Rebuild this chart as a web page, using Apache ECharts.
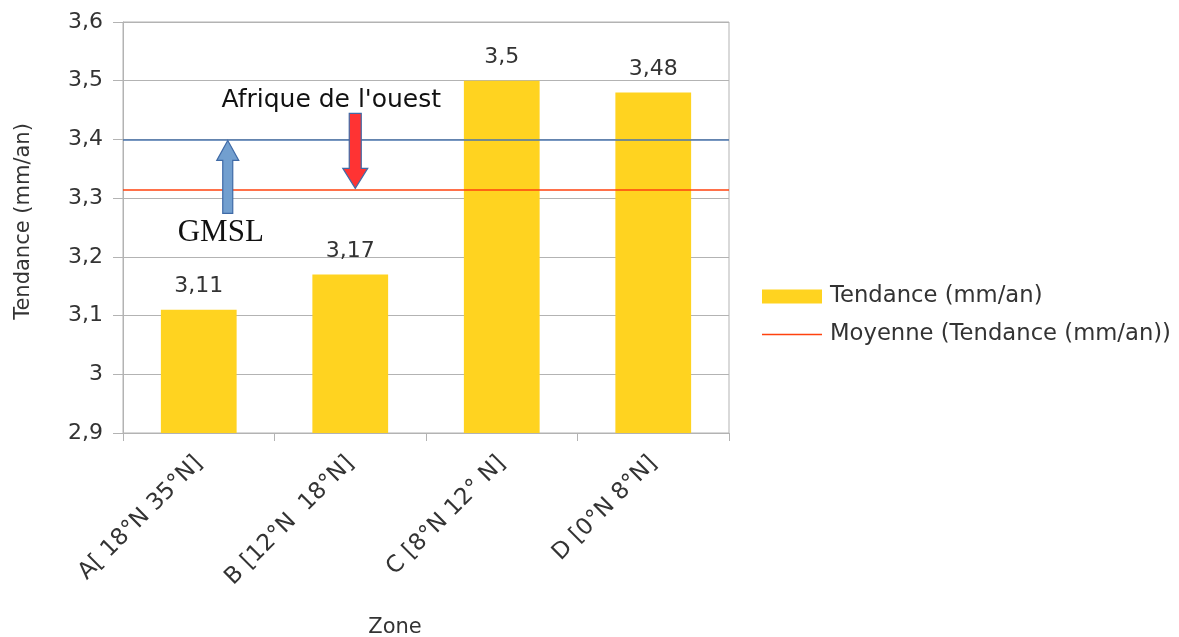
<!DOCTYPE html>
<html>
<head>
<meta charset="utf-8">
<script src="https://cdn.jsdelivr.net/npm/echarts@6/dist/echarts.min.js"></script>
<style>
  html, body { margin: 0; padding: 0; background: #ffffff; overflow: hidden; }
  #chart { width: 1179px; height: 637px; }
</style>
</head>
<body>
<div id="chart"></div>
<script>
// Sea-level trend by latitude zone (mm/an)
const zones = ['A[ 18°N 35°N]', 'B [12°N  18°N]', 'C [8°N 12° N]', 'D [0°N 8°N]'];
const tendance = [3.11, 3.17, 3.5, 3.48];
const gmsl = 3.4;
const yTicks = { min: 2.9, max: 3.6, step: 0.1 };

const barName = 'Tendance (mm/an)';
const meanName = 'Moyenne (Tendance (mm/an))';
const moyenne = tendance.reduce((a, b) => a + b, 0) / tendance.length;

const fmt = v => String(Math.round(v * 100) / 100).replace('.', ',');
const FONT = '"DejaVu Sans", "Liberation Sans", Arial, sans-serif';
const GRID_COLOR = '#b3b3b3';
const TEXT = '#333333';

const chart = echarts.init(document.getElementById('chart'), null, {
  renderer: 'canvas', width: 1179, height: 637
});

chart.setOption({
  animation: false,
  backgroundColor: '#ffffff',
  textStyle: { fontFamily: FONT },
  grid: {
    left: 123, top: 22, width: 606, height: 411,
    outerBoundsMode: 'none',
    containLabel: false,
    show: true, borderColor: GRID_COLOR, borderWidth: 1, backgroundColor: 'transparent'
  },
  legend: {
    orient: 'vertical',
    left: 762, top: 285,
    padding: 0,
    itemWidth: 60, itemHeight: 14, itemGap: 15,
    textStyle: { fontFamily: FONT, fontSize: 22.7, lineHeight: 22, color: TEXT, padding: [0, 0, 0, 3] },
    data: [
      { name: barName, icon: 'rect' },
      { name: meanName, icon: 'path://M0,0H40V1H0Z' }
    ]
  },
  xAxis: {
    type: 'category',
    data: zones,
    name: 'Zone',
    nameLocation: 'middle',
    nameGap: 184,
    nameTextStyle: { fontFamily: FONT, fontSize: 21, color: TEXT, padding: [0, 62, 0, 0] },
    axisLine: { show: true, lineStyle: { color: GRID_COLOR, width: 1 } },
    axisTick: { show: true, length: 8, lineStyle: { color: GRID_COLOR } },
    axisLabel: { rotate: 45, fontSize: 23, color: TEXT, margin: 27, fontFamily: FONT },
    splitLine: { show: false }
  },
  yAxis: {
    type: 'value',
    min: yTicks.min, max: yTicks.max, interval: yTicks.step,
    name: 'Tendance (mm/an)',
    nameLocation: 'middle',
    nameGap: 89,
    nameRotate: 90,
    nameTextStyle: { fontFamily: FONT, fontSize: 21, color: TEXT, padding: [0, 0, 0, 12] },
    axisLine: { show: true, lineStyle: { color: GRID_COLOR, width: 1 } },
    axisTick: { show: true, length: 10, lineStyle: { color: GRID_COLOR } },
    axisLabel: { fontSize: 22, color: TEXT, margin: 20, fontFamily: FONT, formatter: fmt },
    splitLine: { show: true, lineStyle: { color: GRID_COLOR, width: 1 } }
  },
  series: [
    {
      name: barName,
      type: 'bar',
      data: tendance,
      barCategoryGap: '50%',
      itemStyle: { color: '#ffd320' },
      label: {
        show: true, position: 'top', distance: 12,
        fontSize: 22, color: TEXT, fontFamily: FONT,
        formatter: p => fmt(p.value)
      },
      markLine: {
        silent: true, symbol: 'none', precision: 4, label: { show: false },
        lineStyle: { color: '#4a74ad', width: 1.5, type: 'solid' },
        data: [{ yAxis: gmsl }]
      },
      z: 2
    },
    {
      name: meanName,
      type: 'line',
      data: [],
      symbol: 'none',
      lineStyle: { color: '#ff420e', width: 1.5 },
      itemStyle: { color: '#ff420e' },
      markLine: {
        silent: true, symbol: 'none', precision: 4, label: { show: false },
        lineStyle: { color: '#ff420e', width: 1.5, type: 'solid' },
        data: [{ yAxis: moyenne }]
      },
      z: 3
    }
  ]
});

// Block arrows and annotation text anchored to the axes
function blockArrow(cx, tipY, tailY, shaftW, headW, headLen, fill, stroke) {
  const dir = tailY > tipY ? 1 : -1; // 1: points up, -1: points down
  const baseY = tipY + dir * headLen;
  return {
    type: 'polygon',
    z: 100,
    shape: {
      points: [
        [cx, tipY],
        [cx + headW / 2, baseY],
        [cx + shaftW / 2, baseY],
        [cx + shaftW / 2, tailY],
        [cx - shaftW / 2, tailY],
        [cx - shaftW / 2, baseY],
        [cx - headW / 2, baseY]
      ]
    },
    style: { fill: fill, stroke: stroke, lineWidth: 1.2 }
  };
}

const yGmsl = chart.convertToPixel({ yAxisIndex: 0 }, gmsl);
const yMean = chart.convertToPixel({ yAxisIndex: 0 }, moyenne);
const xA = chart.convertToPixel({ xAxisIndex: 0 }, zones[0]);
const xB = chart.convertToPixel({ xAxisIndex: 0 }, zones[1]);

const blueX = xA + 29;
const redX = xB + 5;

chart.setOption({
  graphic: [
    blockArrow(blueX, yGmsl + 1, yGmsl + 74, 10, 22, 20, '#729fcf', '#3f6aa6'),
    blockArrow(redX, yMean - 1, yMean - 76, 12, 25, 20, '#ff3333', '#3f6aa6'),
    {
      type: 'text', z: 100,
      x: blueX - 7, y: yGmsl + 93,
      style: {
        text: 'GMSL', fill: '#111111',
        font: '31px "Liberation Serif", "Times New Roman", serif',
        align: 'center', verticalAlign: 'middle'
      }
    },
    {
      type: 'text', z: 100,
      x: redX - 24, y: yMean - 89,
      style: {
        text: "Afrique de l'ouest", fill: '#111111',
        font: '25px "DejaVu Sans", "Liberation Sans", Arial, sans-serif',
        align: 'center', verticalAlign: 'middle'
      }
    }
  ]
});
</script>
</body>
</html>
